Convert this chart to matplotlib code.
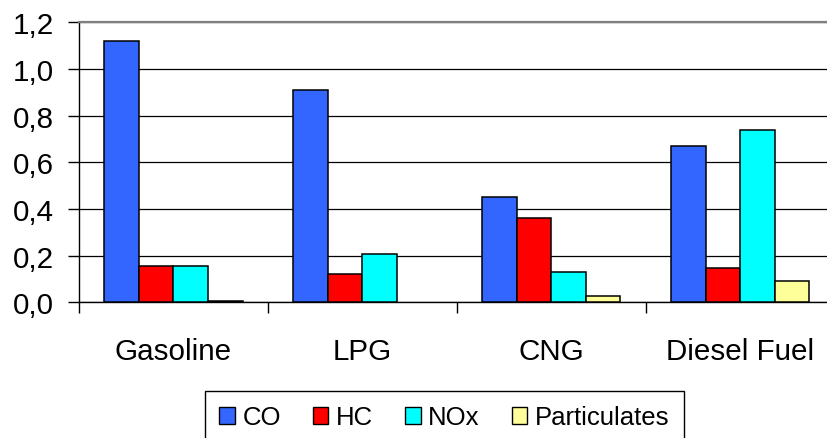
import matplotlib
matplotlib.use("Agg")
import matplotlib.pyplot as plt
from matplotlib.ticker import FixedLocator, FuncFormatter
import numpy as np

categories = ["Gasoline", "LPG", "CNG", "Diesel Fuel"]
series_names = ["CO", "HC", "NOx", "Particulates"]
co = [1.12, 0.91, 0.45, 0.67]
hc = [0.155, 0.12, 0.36, 0.145]
nox = [0.155, 0.205, 0.13, 0.74]
particulates = [0.007, 0.0, 0.026, 0.093]
colors = ["#3366FF", "#FF0000", "#00FFFF", "#FFFF99"]
yticks = [0.0, 0.2, 0.4, 0.6, 0.8, 1.0, 1.2]

plt.rcParams['font.family'] = ['Liberation Sans', 'DejaVu Sans']

fig = plt.figure(figsize=(8.27, 4.39), dpi=100)
W, H = 827, 439
x0, x1 = 79, 834.6
y0, y1 = 303.3, 23.3
ax = fig.add_axes([x0 / W, 1 - y0 / H, (x1 - x0) / W, (y0 - y1) / H])

x = np.arange(len(categories))
bw = 0.183
data = [co, hc, nox, particulates]
for i, (name, vals, c) in enumerate(zip(series_names, data, colors)):
    bars = ax.bar(x + (i - 1.5) * bw, vals, width=bw, color=c, edgecolor="black",
                  linewidth=1.1, label=name, zorder=3)
    for b, v in zip(bars, vals):
        if v == 0:
            b.set_visible(False)

ax.set_xlim(-0.5, len(categories) - 0.5)
ax.set_ylim(0, 1.2)
ax.set_yticks(yticks)
ax.yaxis.set_major_formatter(FuncFormatter(lambda v, p: f"{v:.1f}".replace(".", ",")))
ax.tick_params(axis="y", direction="out", length=8, width=1.0, pad=10,
               labelsize=21.3, colors="black")

ax.xaxis.set_major_locator(FixedLocator(np.arange(-0.5, len(categories), 1.0)))
ax.xaxis.set_major_formatter(FuncFormatter(lambda v, p: ""))
ax.xaxis.set_minor_locator(FixedLocator(x))
ax.set_xticklabels(categories, minor=True)
ax.tick_params(axis="x", which="major", direction="out", length=8, width=1.0)
ax.tick_params(axis="x", which="minor", length=0, pad=25, labelsize=21.3)

ax.yaxis.grid(True, color="black", linewidth=0.9)
ax.set_axisbelow(True)

for s in ["left", "bottom"]:
    ax.spines[s].set_color("black")
    ax.spines[s].set_linewidth(1.0)
ax.spines["top"].set_color("#808080")
ax.spines["top"].set_linewidth(1.6)
ax.spines["right"].set_visible(False)

leg = fig.legend(loc="upper left", bbox_to_anchor=(205 / W, 1 - 392 / H),
                 ncol=4, frameon=True, fancybox=False, shadow=False,
                 prop={"size": 18.5},
                 handlelength=0.6, handleheight=0.65, handletextpad=0.3,
                 columnspacing=1.25, borderpad=0.55, borderaxespad=0)
leg.get_frame().set_edgecolor("black")
leg.get_frame().set_linewidth(1.0)
leg.get_frame().set_alpha(1)
for h in leg.legend_handles:
    h.set_edgecolor("black")
    h.set_linewidth(1.0)

fig.savefig("out.png", dpi=100)
